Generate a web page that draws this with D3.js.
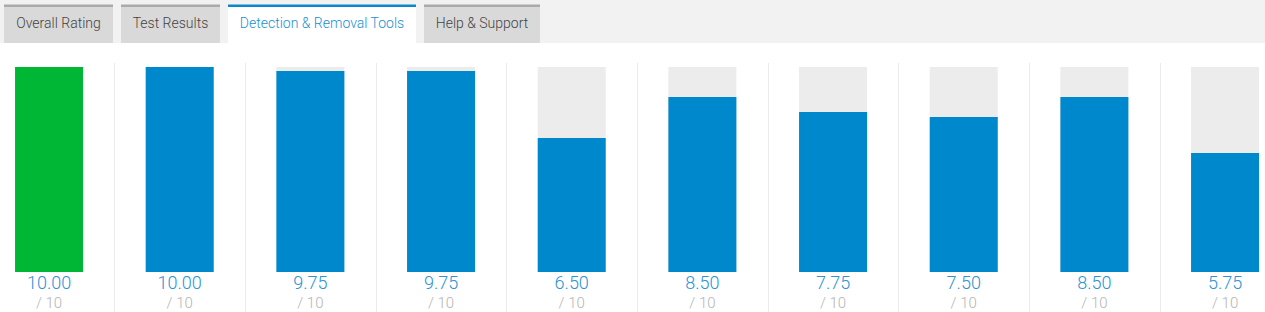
<!doctype html>
<html lang="en">
<head>
<title>Detection & Removal Tools</title>
<script src="https://d3js.org/d3.v7.min.js" charset="utf-8"></script>
<style>
  body { margin: 0; background: #fff; overflow: hidden; }
  svg { display: block; font-family: Roboto, "Noto Sans", sans-serif; }
</style>
</head>
<body>
<div id="chart"></div>
<script>
// tabs across the top
var tabs = ["Overall Rating", "Test Results", "Detection & Removal Tools", "Help & Support"];
var activeTab = 2;
var tabEdges = [[4, 113], [121, 220], [228, 416], [424, 540]];

// one score per product, out of 10
var products = ["p1", "p2", "p3", "p4", "p5", "p6", "p7", "p8", "p9", "p10"];
var scores = [10.00, 10.00, 9.75, 9.75, 6.50, 8.50, 7.75, 7.50, 8.50, 5.75];
var maxScore = 10;

var width = 1265, height = 312;

var svg = d3.select("#chart").append("svg")
    .attr("width", width)
    .attr("height", height);

// tab strip
svg.append("rect")
    .attr("x", 0).attr("y", 0)
    .attr("width", width).attr("height", 43)
    .attr("fill", "#f2f2f2");

var tab = svg.selectAll("g.tab")
    .data(tabs)
  .enter().append("g")
    .attr("class", "tab");

tab.append("rect")
    .attr("x", function(d, i) { return tabEdges[i][0]; })
    .attr("y", 5)
    .attr("width", function(d, i) { return tabEdges[i][1] - tabEdges[i][0]; })
    .attr("height", 38)
    .attr("fill", function(d, i) { return i === activeTab ? "#fff" : "#d9d9d9"; });

tab.append("rect")
    .attr("x", function(d, i) { return tabEdges[i][0]; })
    .attr("y", 4.5)
    .attr("width", function(d, i) { return tabEdges[i][1] - tabEdges[i][0]; })
    .attr("height", 2.5)
    .attr("fill", function(d, i) { return i === activeTab ? "#0a88cf" : "#aaaaaa"; });

tab.append("text")
    .attr("x", function(d, i) { return (tabEdges[i][0] + tabEdges[i][1]) / 2; })
    .attr("y", 28)
    .attr("text-anchor", "middle")
    .attr("font-size", 14)
    .attr("font-weight", 300)
    .attr("fill", function(d, i) { return i === activeTab ? "#1a8fd3" : "#444"; })
    .text(function(d) { return d; });

// columns
var x = d3.scaleBand()
    .domain(products)
    .range([-16.3, -16.3 + 130.67 * products.length])
    .paddingInner(0);

var y = d3.scaleLinear()
    .domain([0, maxScore])
    .range([272, 67]);

var barW = 68;

// column separators
svg.selectAll("line.sep")
    .data(products.slice(0, -1))
  .enter().append("line")
    .attr("class", "sep")
    .attr("x1", function(d) { return Math.round(x(d) + x.bandwidth()) + 0.5; })
    .attr("x2", function(d) { return Math.round(x(d) + x.bandwidth()) + 0.5; })
    .attr("y1", 63)
    .attr("y2", height)
    .attr("stroke", "#ebebeb");

var col = svg.selectAll("g.col")
    .data(products)
  .enter().append("g")
    .attr("class", "col")
    .attr("transform", function(d) { return "translate(" + (x(d) + x.bandwidth() / 2) + ",0)"; });

// background track
col.append("rect")
    .attr("x", -barW / 2)
    .attr("y", y(maxScore))
    .attr("width", barW)
    .attr("height", y(0) - y(maxScore))
    .attr("fill", "#ececec");

// score bar (top snapped to whole pixels)
function barTop(v) { return Math.max(y(maxScore), Math.round(y(v)) - 1); }

col.append("rect")
    .attr("x", -barW / 2)
    .attr("y", function(d, i) { return barTop(scores[i]); })
    .attr("width", barW)
    .attr("height", function(d, i) { return y(0) - barTop(scores[i]); })
    .attr("fill", function(d, i) { return i === 0 ? "#00b735" : "#0088cc"; });

col.append("text")
    .attr("y", 289)
    .attr("text-anchor", "middle")
    .attr("font-size", 18)
    .attr("font-weight", 300)
    .attr("fill", "#2b93d6")
    .text(function(d, i) { return scores[i].toFixed(2); });

col.append("text")
    .attr("y", 308)
    .attr("text-anchor", "middle")
    .attr("font-size", 15)
    .attr("font-weight", 300)
    .attr("fill", "#b5b5b5")
    .text("/ " + maxScore);
</script>
</body>
</html>
